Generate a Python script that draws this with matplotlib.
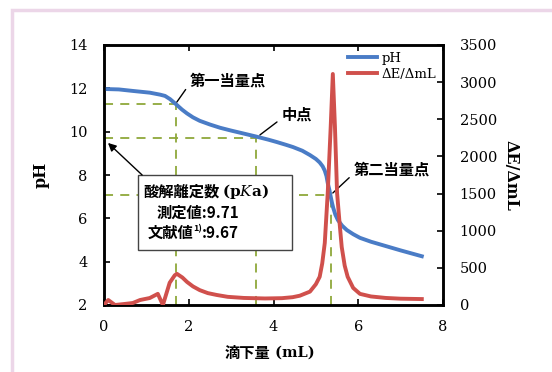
import matplotlib
matplotlib.use("Agg")
import matplotlib.pyplot as plt
from matplotlib.patches import Rectangle
from matplotlib.lines import Line2D

# titration volume (mL) and pH
vol_ph = [0, 0.35, 0.68, 1.08, 1.32, 1.44, 1.56, 1.72, 1.84, 1.96, 2.1, 2.26,
          2.5, 2.74, 3.0, 3.28, 3.58, 3.88, 4.08, 4.3, 4.46, 4.68, 4.86, 5.0,
          5.09, 5.16, 5.21, 5.25, 5.28, 5.32, 5.35, 5.38, 5.41, 5.46, 5.52,
          5.62, 5.73, 5.88, 6.04, 6.3, 6.65, 7.0, 7.5]
ph = [11.97, 11.95, 11.88, 11.8, 11.71, 11.65, 11.5, 11.23, 11.02, 10.84, 10.66,
      10.5, 10.33, 10.18, 10.05, 9.92, 9.78, 9.63, 9.52, 9.39, 9.29, 9.12, 8.92,
      8.74, 8.58, 8.4, 8.2, 7.95, 7.63, 7.3, 7.0, 6.72, 6.48, 6.17, 5.92, 5.66,
      5.46, 5.27, 5.1, 4.92, 4.72, 4.52, 4.25]

# first derivative dE/dmL
vol_de = [0, 0.1, 0.26, 0.5, 0.68, 0.85, 1.08, 1.27, 1.39, 1.55, 1.67, 1.72,
          1.85, 1.96, 2.1, 2.26, 2.45, 2.66, 2.92, 3.3, 3.8, 4.2, 4.45, 4.62,
          4.86, 5.0, 5.09, 5.15, 5.21, 5.28, 5.35, 5.40, 5.45, 5.5, 5.56, 5.61,
          5.68, 5.75, 5.88, 6.04, 6.3, 6.65, 7.0, 7.5]
de = [0, 67, 0, 15, 27, 67, 94, 150, 0, 300, 400, 420, 370, 310, 250, 200, 160,
      135, 110, 95, 88, 92, 105, 125, 180, 280, 380, 560, 835, 1510, 2400, 3110,
      2400, 1510, 1100, 780, 530, 380, 230, 150, 115, 95, 85, 80]

# equivalence points and half-neutralisation point (volume, pH)
eq1 = (1.70, 11.27)
mid = (3.58, 9.71)
eq2 = (5.35, 7.08)

BLUE = "#4a7cc6"
RED = "#d0504c"
GREEN = "#8fa83a"
JP = ["Noto Sans CJK JP", "DejaVu Sans"]
SERIF = "DejaVu Serif"

plt.rcParams["mathtext.fontset"] = "dejavuserif"

fig = plt.figure(figsize=(5.52, 3.72), dpi=100)
fig.patches.append(Rectangle((12 / 552, -0.1), 1.2, 1 - 10 / 372 + 0.1,
                             transform=fig.transFigure, fill=False,
                             edgecolor="#ecd6e8", lw=2.5))
ax = fig.add_axes([104 / 552, 1 - 305 / 372, 339 / 552, 260 / 372])
ax2 = ax.twinx()

# guide lines
for x, y in (eq1, mid, eq2):
    ax.plot([0, x], [y, y], color=GREEN, lw=1.3, dashes=(5, 4), zorder=1)
    ax.plot([x, x], [2, y], color=GREEN, lw=1.3, dashes=(5, 4), zorder=1)

ax.plot(vol_ph, ph, color=BLUE, lw=2.8, solid_joinstyle="round", zorder=3)
ax2.plot(vol_de, de, color=RED, lw=2.8, solid_joinstyle="round", zorder=3)

ax.set_xlim(0, 8)
ax.set_ylim(2, 14)
ax2.set_ylim(0, 3500)
ax.set_xticks([0, 2, 4, 6, 8])
ax.set_yticks(range(2, 15, 2))
ax2.set_yticks(range(0, 3501, 500))

ax.tick_params(axis="x", direction="in", top=True, length=4, width=1.2,
               pad=11, labelsize=10.5)
ax.tick_params(axis="y", direction="in", length=4, width=1.2, pad=12,
               labelsize=10.5)
ax2.tick_params(axis="y", direction="in", length=4, width=1.2, pad=12,
                labelsize=10.5)
for a in (ax, ax2):
    for lab in a.get_xticklabels() + a.get_yticklabels():
        lab.set_family(SERIF)
    for s in a.spines.values():
        s.set_linewidth(1.8)

ax.set_ylabel("pH", family=SERIF, fontweight="bold", fontsize=11.5, labelpad=14)
ax2.set_ylabel("ΔE/ΔmL", family=SERIF, fontweight="bold", fontsize=11.5,
               rotation=270, labelpad=16)
fig.text(0.49, 1 - 353 / 372, "滴下量", family=JP, fontweight="bold",
         fontsize=11, ha="right", va="center")
fig.text(0.49, 1 - 353 / 372, " (mL)", family=SERIF, fontweight="bold",
         fontsize=10.5, ha="left", va="center")

# leader lines and labels
lbl = dict(family=JP, fontweight="bold", fontsize=11, va="center", ha="left")
line = dict(arrowstyle="-", color="black", lw=1, shrinkA=2, shrinkB=0,
            relpos=(0, 0.3))
ax.annotate("第一当量点", xy=(1.72, 11.37), xytext=(2.03, 12.38),
            arrowprops=line, **lbl)
ax.annotate("中点", xy=(3.68, 9.85), xytext=(4.2, 10.77),
            arrowprops=line, **lbl)
ax.annotate("第二当量点", xy=(5.40, 7.17), xytext=(5.9, 8.23),
            arrowprops=line, **lbl)

# pKa box
ax.add_patch(Rectangle((0.80, 4.54), 3.63, 3.46, facecolor="white",
                       edgecolor="#444444", lw=1, zorder=5))
ax.annotate("", xy=(0.094, 9.48), xytext=(0.9, 8.0),
            arrowprops=dict(arrowstyle="-|>", color="black", lw=1,
                            mutation_scale=12, shrinkA=0, shrinkB=0),
            zorder=6)
box_txt = dict(family=JP, fontweight="bold", fontsize=11, va="center",
               ha="left", zorder=7)
ax.text(0.92, 7.22, "酸解離定数", **box_txt)
ax.text(2.78, 7.22, "(p$\\mathit{K}$a)", family=SERIF, fontweight="bold",
        fontsize=11, va="center", ha="left", zorder=7)
ax.text(1.25, 6.25, "測定値:9.71", **box_txt)
ax.text(1.02, 5.32, "文献値", **box_txt)
ax.text(2.1, 5.52, "1)", family=JP, fontweight="bold", fontsize=6.5,
        va="center", ha="left", zorder=7)
ax.text(2.32, 5.32, ":9.67", **box_txt)

handles = [Line2D([], [], color=BLUE, lw=2.8), Line2D([], [], color=RED, lw=2.8)]
leg = ax2.legend(handles, ["pH", "ΔE/ΔmL"], loc="upper left",
                 bbox_to_anchor=(0.705, 0.995), frameon=False,
                 handlelength=2.2, handletextpad=0.3, labelspacing=0.25,
                 borderaxespad=0, prop=dict(family=SERIF, size=9.5))

fig.savefig("out.png", dpi=100)
